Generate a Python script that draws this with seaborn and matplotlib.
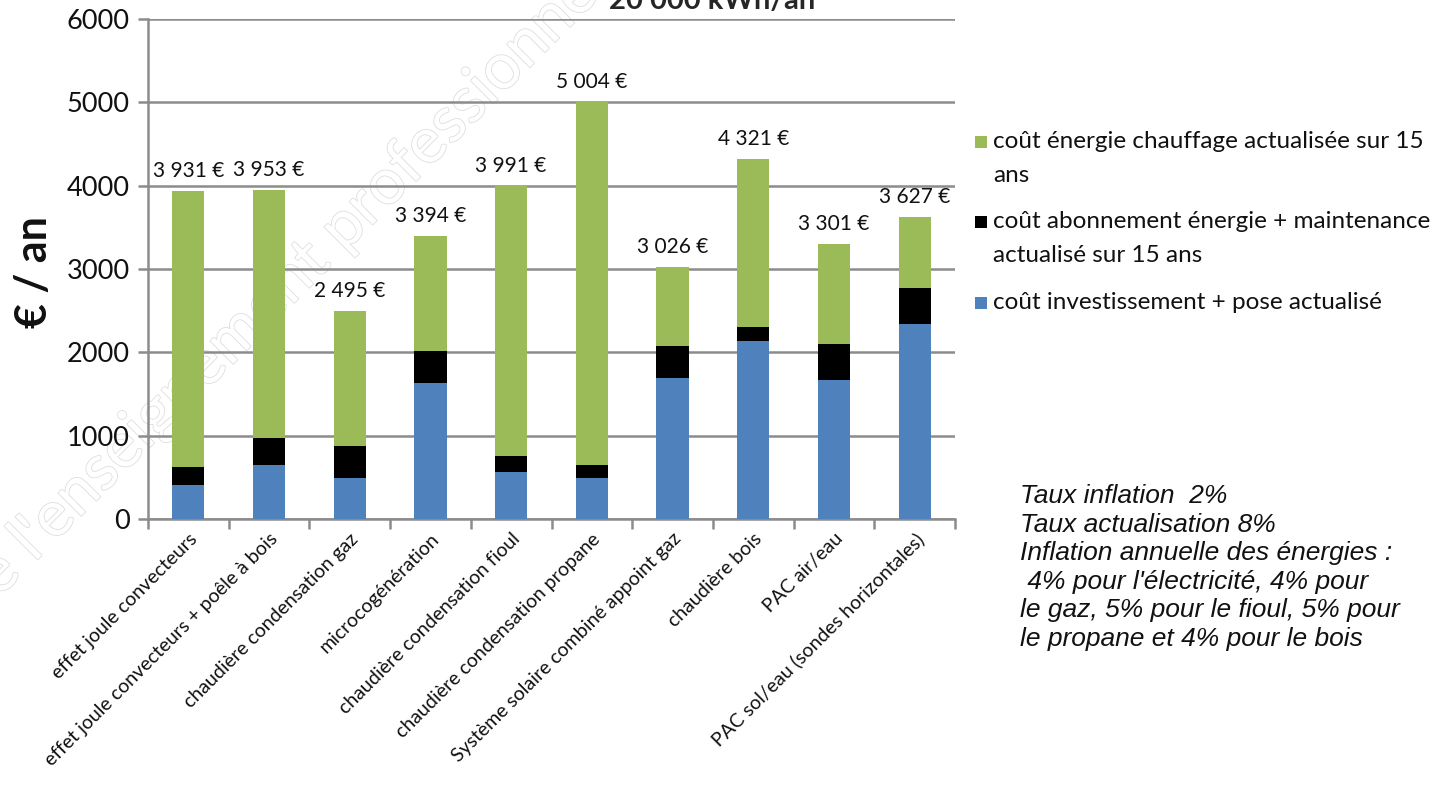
import matplotlib
matplotlib.use("Agg")
import matplotlib.pyplot as plt
import matplotlib.patheffects as pe
from matplotlib.patches import Rectangle
import seaborn as sns


# categories and stacked values (euros / an)
categories = [
    "effet joule convecteurs",
    "effet joule convecteurs + poêle à bois",
    "chaudière condensation gaz",
    "microcogénération",
    "chaudière condensation fioul",
    "chaudière condensation propane",
    "Système solaire combiné appoint gaz",
    "chaudière bois",
    "PAC air/eau",
    "PAC sol/eau (sondes horizontales)",
]
investissement = [404, 648, 492, 1636, 560, 492, 1688, 2136, 1672, 2340]
abonnement = [216, 320, 380, 380, 200, 160, 388, 164, 432, 428]
energie = [3311, 2985, 1623, 1378, 3231, 4352, 950, 2021, 1197, 859]

series_labels = [
    "coût énergie chauffage actualisée sur 15\nans",
    "coût abonnement énergie + maintenance\nactualisé sur 15 ans",
    "coût investissement + pose actualisé",
]
notes = ("Taux inflation  2%\n"
         "Taux actualisation 8%\n"
         "Inflation annuelle des énergies :\n"
         " 4% pour l'électricité, 4% pour\n"
         "le gaz, 5% pour le fioul, 5% pour\n"
         "le propane et 4% pour le bois")

GREEN = "#9BBB59"
BLACK = "#000000"
BLUE = "#4F81BD"
GRID = "#8C8C8C"

sns.set_style("white")
plt.rcParams["font.family"] = ["Lato", "DejaVu Sans"]

W, H = 1445, 787
fig = plt.figure(figsize=(W / 100, H / 100), dpi=100)


def fx(x):
    return x / W


def fy(y):
    return 1 - y / H


ax = fig.add_axes([fx(148), fy(519), fx(955) - fx(148), fy(19) - fy(519)])
ax.set_facecolor("none")

# cumulative heights, drawn from the top layer down
lvl_black = [a + b for a, b in zip(investissement, abonnement)]
lvl_green = [a + b for a, b in zip(lvl_black, energie)]

bar_kw = dict(saturation=1, width=0.4, ax=ax, zorder=3, linewidth=0, edgecolor="none")
sns.barplot(x=categories, y=lvl_green, color=GREEN, **bar_kw)
sns.barplot(x=categories, y=lvl_black, color=BLACK, **bar_kw)
sns.barplot(x=categories, y=investissement, color=BLUE, **bar_kw)

# totals above each bar
for i, t in enumerate(lvl_green):
    ax.text(i, t + 120, f"{t:,}".replace(",", " ") + " €", ha="center", va="bottom",
            fontsize=15, color="#111111")

ax.set_ylim(0, 6000)
ax.set_xlim(-0.5, len(categories) - 0.5)
ax.set_yticks(range(0, 6001, 1000))
ax.yaxis.grid(True, color=GRID, lw=1.8, zorder=0)
ax.set_axisbelow(True)
for s in ["top", "right"]:
    ax.spines[s].set_visible(False)
for s in ["left", "bottom"]:
    ax.spines[s].set_color(GRID)
    ax.spines[s].set_linewidth(1.8)

ax.tick_params(axis="y", which="major", length=7, width=1.8, color=GRID,
               labelsize=19.5, labelcolor="#111111", left=True, pad=6)
ax.set_xticks(range(len(categories)))
ax.set_xticks([i - 0.5 for i in range(len(categories) + 1)], minor=True)
ax.tick_params(axis="x", which="major", length=0, pad=8)
ax.tick_params(axis="x", which="minor", length=7, width=1.8, color=GRID, bottom=True)
ax.set_xticklabels(categories, rotation=45, ha="right", rotation_mode="anchor",
                   fontsize=14, color="#111111")
ax.set_xlabel("")
ax.set_ylabel("")
fig.text(fx(34), fy(272), "€ / an", rotation=90, ha="center", va="center",
         fontsize=31, fontweight="bold", color="#111111")

# title, clipped at the top of the picture
fig.text(fx(712), fy(9), "20 000 kWh/an", ha="center", va="baseline",
         fontsize=21, fontweight="bold")

# legend drawn by hand so squares sit on the first line of each label
legend_colors = [GREEN, BLACK, BLUE]
legend_y = [142, 222, 303]
for col, lab, y in zip(legend_colors, series_labels, legend_y):
    fig.patches.append(Rectangle((fx(975), fy(y + 6)), fx(12), 12 / H, facecolor=col,
                                 edgecolor="none", transform=fig.transFigure, figure=fig))
    for k, line in enumerate(lab.split("\n")):
        fig.text(fx(993), fy(y + 33 * k), line, ha="left", va="center", fontsize=17.5,
                 color="#111111")

fig.text(fx(1020), fy(484), notes, ha="left", va="top", fontsize=19, style="italic",
         family="Liberation Sans", color="#111111", linespacing=1.24)

# faint outlined watermark behind the chart
fig.text(fx(280), fy(292), "de l'enseignement professionnel", rotation=45, ha="center",
         va="center", fontsize=46, color="white", zorder=-1,
         path_effects=[pe.withStroke(linewidth=1.2, foreground="#dedede")])

fig.savefig("out.png", dpi=100)
